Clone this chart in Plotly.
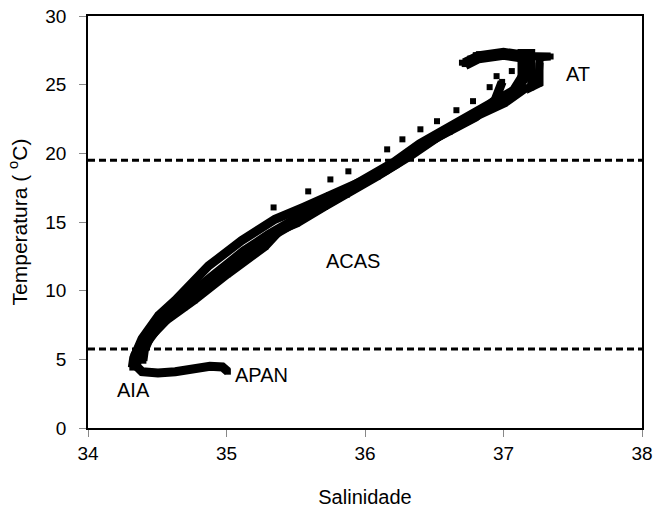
import plotly.graph_objects as go

# ---- data (Salinity, Temperature) ----
# upper/left side of the T-S band
sal_upper = [34.32, 34.33, 34.39, 34.51, 34.63, 34.87, 35.11, 35.35, 35.55, 35.74,
             35.96, 36.15, 36.36, 36.61, 36.80, 36.94, 36.99]
temp_upper = [4.4, 5.1, 6.5, 8.2, 9.3, 11.8, 13.65, 15.2, 16.05, 16.95,
              17.9, 18.75, 20.3, 21.55, 22.65, 23.9, 25.2]

# lower/right side of the T-S band
sal_lower = [34.40, 34.41, 34.45, 34.57, 34.70, 34.77, 35.01, 35.17, 35.28, 35.39,
             35.51, 35.71, 35.87, 36.09, 36.33, 36.45, 36.57, 36.81, 37.01, 37.15,
             37.25, 37.26]
temp_lower = [4.9, 5.65, 6.6, 7.85, 8.8, 9.3, 11.2, 12.45, 13.2, 14.4,
              14.9, 16.1, 17.0, 18.3, 19.8, 20.7, 21.45, 22.7, 23.65, 24.65,
              25.1, 26.6]

# deep tail (APAN -> AIA)
sal_tail = [35.01, 34.97, 34.88, 34.77, 34.63, 34.505, 34.39, 34.34]
temp_tail = [4.1, 4.45, 4.5, 4.3, 4.1, 4.0, 4.1, 4.6]

# central profile (AIA -> ACAS -> AT)
sal_mid = [34.34, 34.35, 34.39, 34.45, 34.54, 34.66, 34.81, 34.95, 35.13, 35.31,
           35.49, 35.68, 35.86, 36.04, 36.22, 36.40, 36.58, 36.76, 36.94, 37.08,
           37.16, 37.17, 37.00, 36.82, 36.72]
temp_mid = [4.6, 5.3, 5.9, 6.8, 8.0, 9.0, 10.2, 11.4, 12.8, 14.0,
            15.0, 16.1, 17.2, 18.25, 19.3, 20.6, 21.6, 22.6, 23.7, 24.5,
            25.8, 27.0, 27.25, 27.0, 26.5]

# surface profile (AT block)
sal_surf = [37.06, 37.13, 37.13, 37.20, 37.20, 37.26, 37.26, 37.34, 36.80]
temp_surf = [24.1, 24.6, 27.3, 27.3, 24.8, 25.1, 27.0, 27.05, 27.15]

# scattered samples above the band
sal_scatter = [35.34, 35.59, 35.75, 35.88, 36.16, 36.27, 36.40, 36.52, 36.66,
               36.78, 36.90, 36.95, 37.06, 36.70, 36.76]
temp_scatter = [16.06, 17.23, 18.10, 18.69, 20.29, 21.02, 21.75, 22.34, 23.14,
                23.80, 24.82, 25.62, 25.99, 26.6, 26.9]

# water-mass limits (dashed lines)
limits = [19.5, 5.75]

# labels
label_text = ["AT", "ACAS", "APAN", "AIA"]
label_sal = [37.54, 35.91, 35.25, 34.33]
label_temp = [25.77, 12.19, 3.83, 2.74]

x_ticks = [34, 35, 36, 37, 38]
y_ticks = [0, 5, 10, 15, 20, 25, 30]

FONT = "Liberation Sans, Arial, sans-serif"

fig = go.Figure()

for sx, ty, w in [(sal_upper, temp_upper, 9), (sal_lower, temp_lower, 8),
                  (sal_mid, temp_mid, 12), (sal_tail, temp_tail, 9),
                  (sal_surf, temp_surf, 8)]:
    fig.add_trace(go.Scatter(
        x=sx, y=ty, mode="lines+markers",
        line=dict(color="black", width=w),
        marker=dict(symbol="square", size=6, color="black"),
        showlegend=False, hoverinfo="skip"))

fig.add_trace(go.Scatter(
    x=sal_scatter, y=temp_scatter, mode="markers",
    marker=dict(symbol="square", size=6, color="black"),
    showlegend=False, hoverinfo="skip"))

for yv in limits:
    fig.add_hline(y=yv, line=dict(color="black", width=3, dash="7px,4px"))

for t, sx, ty in zip(label_text, label_sal, label_temp):
    fig.add_annotation(x=sx, y=ty, text=t, showarrow=False,
                       font=dict(family=FONT, size=20, color="black"))

fig.update_layout(
    width=656, height=508,
    margin=dict(l=88, r=14, t=16, b=80),
    plot_bgcolor="white", paper_bgcolor="white",
    font=dict(family=FONT, size=19, color="black"),
    showlegend=False,
)
fig.update_xaxes(
    range=[34, 38], tickvals=x_ticks, ticks="outside", ticklen=7,
    tickcolor="#888", tickwidth=1, showgrid=False, zeroline=False,
    showline=True, linecolor="black", linewidth=1.5, mirror=True,
    automargin=False, ticklabeloverflow="allow",
    tickfont=dict(family=FONT, size=19),
    title=dict(text="Salinidade", font=dict(family=FONT, size=20), standoff=28),
)
fig.update_yaxes(
    range=[0, 30], tickvals=y_ticks, ticks="outside", ticklen=7,
    tickcolor="#888", tickwidth=1, showgrid=False, zeroline=False,
    showline=True, linecolor="black", linewidth=1.5, mirror=True,
    automargin=False, ticklabeloverflow="allow",
    tickfont=dict(family=FONT, size=19), ticklabelstandoff=9,
    title=dict(text="Temperatura ( <sup>o</sup>C)", font=dict(family=FONT, size=21), standoff=12),
)

# remove the default 8px page margin so the figure fills the window exactly
fig.write_html(
    "out.html",
    config={"displayModeBar": False},
    post_script="document.body.style.margin='0';document.body.style.padding='0';",
)
